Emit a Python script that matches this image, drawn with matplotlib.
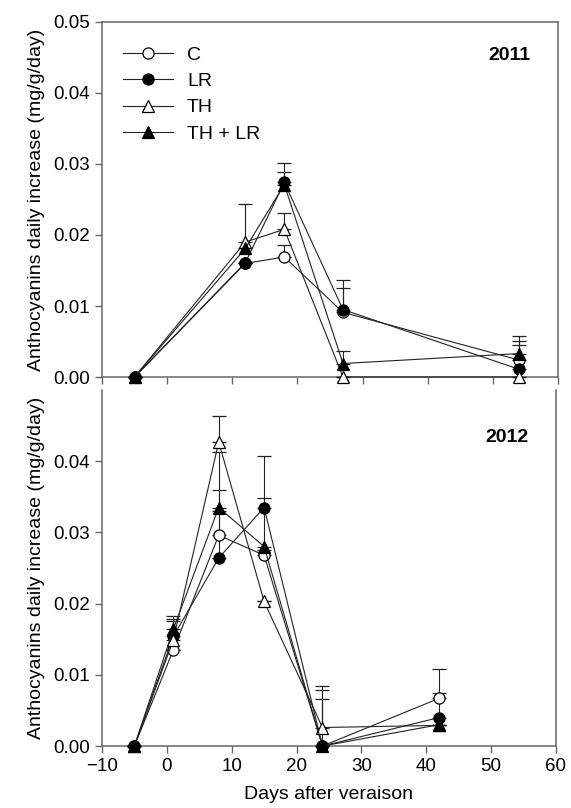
import numpy as np
import matplotlib
matplotlib.use("Agg")
import matplotlib.pyplot as plt
from matplotlib.lines import Line2D

plt.rcParams['font.family'] = ['Liberation Sans', 'DejaVu Sans']

# 2011 season
days_2011 = [-5, 12, 18, 27, 54]
c_2011 = [0.0, 0.0160, 0.0169, 0.0091, 0.0024]
lr_2011 = [0.0, 0.0161, 0.0274, 0.0095, 0.0011]
th_2011 = [0.0, 0.0190, 0.0208, 0.0000, 0.0000]
thlr_2011 = [0.0, 0.0181, 0.0271, 0.0019, 0.0033]
c_err_2011 = [0.0, 0.0, 0.0017, 0.0035, 0.0021]
lr_err_2011 = [0.0, 0.0, 0.0028, 0.0041, 0.0040]
th_err_2011 = [0.0, 0.0053, 0.0023, 0.0, 0.0]
thlr_err_2011 = [0.0, 0.0, 0.0018, 0.0017, 0.0025]

# 2012 season
days_2012 = [-5, 1, 8, 15, 24, 42]
c_2012 = [0.0, 0.0135, 0.0296, 0.0268, 0.0, 0.0067]
lr_2012 = [0.0, 0.0154, 0.0264, 0.0335, 0.0, 0.0040]
th_2012 = [0.0, 0.0149, 0.0427, 0.0203, 0.0026, 0.0029]
thlr_2012 = [0.0, 0.0164, 0.0335, 0.0280, 0.0, 0.0030]
c_err_2012 = [0.0, 0.0, 0.0117, 0.0008, 0.0078, 0.0041]
lr_err_2012 = [0.0, 0.0024, 0.0066, 0.0072, 0.0066, 0.0035]
th_err_2012 = [0.0, 0.0026, 0.0036, 0.0, 0.0058, 0.0]
thlr_err_2012 = [0.0, 0.0019, 0.0025, 0.0069, 0.0, 0.0]

labels = ["C", "LR", "TH", "TH + LR"]
markers = ["o", "o", "^", "^"]
faces = ["white", "black", "white", "black"]

y_ticks = [0.00, 0.01, 0.02, 0.03, 0.04, 0.05]
x_ticks = [-10, 0, 10, 20, 30, 40, 50, 60]

line_col = "#222222"
axis_col = "#666666"
fs = 14


def draw_panel(ax, days, series, errs, year, year_y, top_spine=True):
    for vals, err, lab, mk, fc in zip(series, errs, labels, markers, faces):
        ax.errorbar(days, vals, yerr=[np.zeros(len(err)), err],
                    color=line_col, lw=0.8, marker=mk, ms=8,
                    mfc=fc, mec="black", mew=0.9, capsize=5,
                    elinewidth=0.8, capthick=0.8,
                    clip_on=False, zorder=3)
    ax.set_xlim(-10, 60)
    ax.set_ylim(0, 0.05)
    ax.set_xticks(x_ticks)
    ax.set_yticks(y_ticks)
    ax.set_ylabel("Anthocyanins daily increase (mg/g/day)", fontsize=fs, labelpad=6)
    ax.tick_params(direction="out", length=5, width=1, color=axis_col, labelsize=13.5)
    for s in ax.spines.values():
        s.set_color(axis_col)
        s.set_linewidth(1.1)
    ax.spines["top"].set_visible(top_spine)
    ax.text(0.94, year_y, year, transform=ax.transAxes, ha="right", va="center",
            fontsize=fs, fontweight="bold")


fig = plt.figure(figsize=(5.71, 8.08), dpi=100)
ax1 = fig.add_axes([0.1786, 0.5334, 0.7985, 0.4394])
ax2 = fig.add_axes([0.1786, 0.0767, 0.7950, 0.4406])

draw_panel(ax1, days_2011, [c_2011, lr_2011, th_2011, thlr_2011],
           [c_err_2011, lr_err_2011, th_err_2011, thlr_err_2011], "2011", 0.905)
ax1.tick_params(labelbottom=False)

handles = [Line2D([], [], color=line_col, lw=0.8, marker=mk, ms=8, mfc=fc,
                  mec="black", mew=0.9)
           for mk, fc in zip(markers, faces)]
ax1.legend(handles, labels, loc="upper left", frameon=False, fontsize=fs,
           handlelength=2.6, handletextpad=0.7, labelspacing=0.45,
           bbox_to_anchor=(0.02, 0.965), borderaxespad=0.2)

draw_panel(ax2, days_2012, [c_2012, lr_2012, th_2012, thlr_2012],
           [c_err_2012, lr_err_2012, th_err_2012, thlr_err_2012], "2012", 0.868,
           top_spine=False)
ax2.set_yticks(y_ticks[:-1])
ax2.set_xlabel("Days after veraison", fontsize=fs, labelpad=8)

fig.savefig("out.png", dpi=100)
